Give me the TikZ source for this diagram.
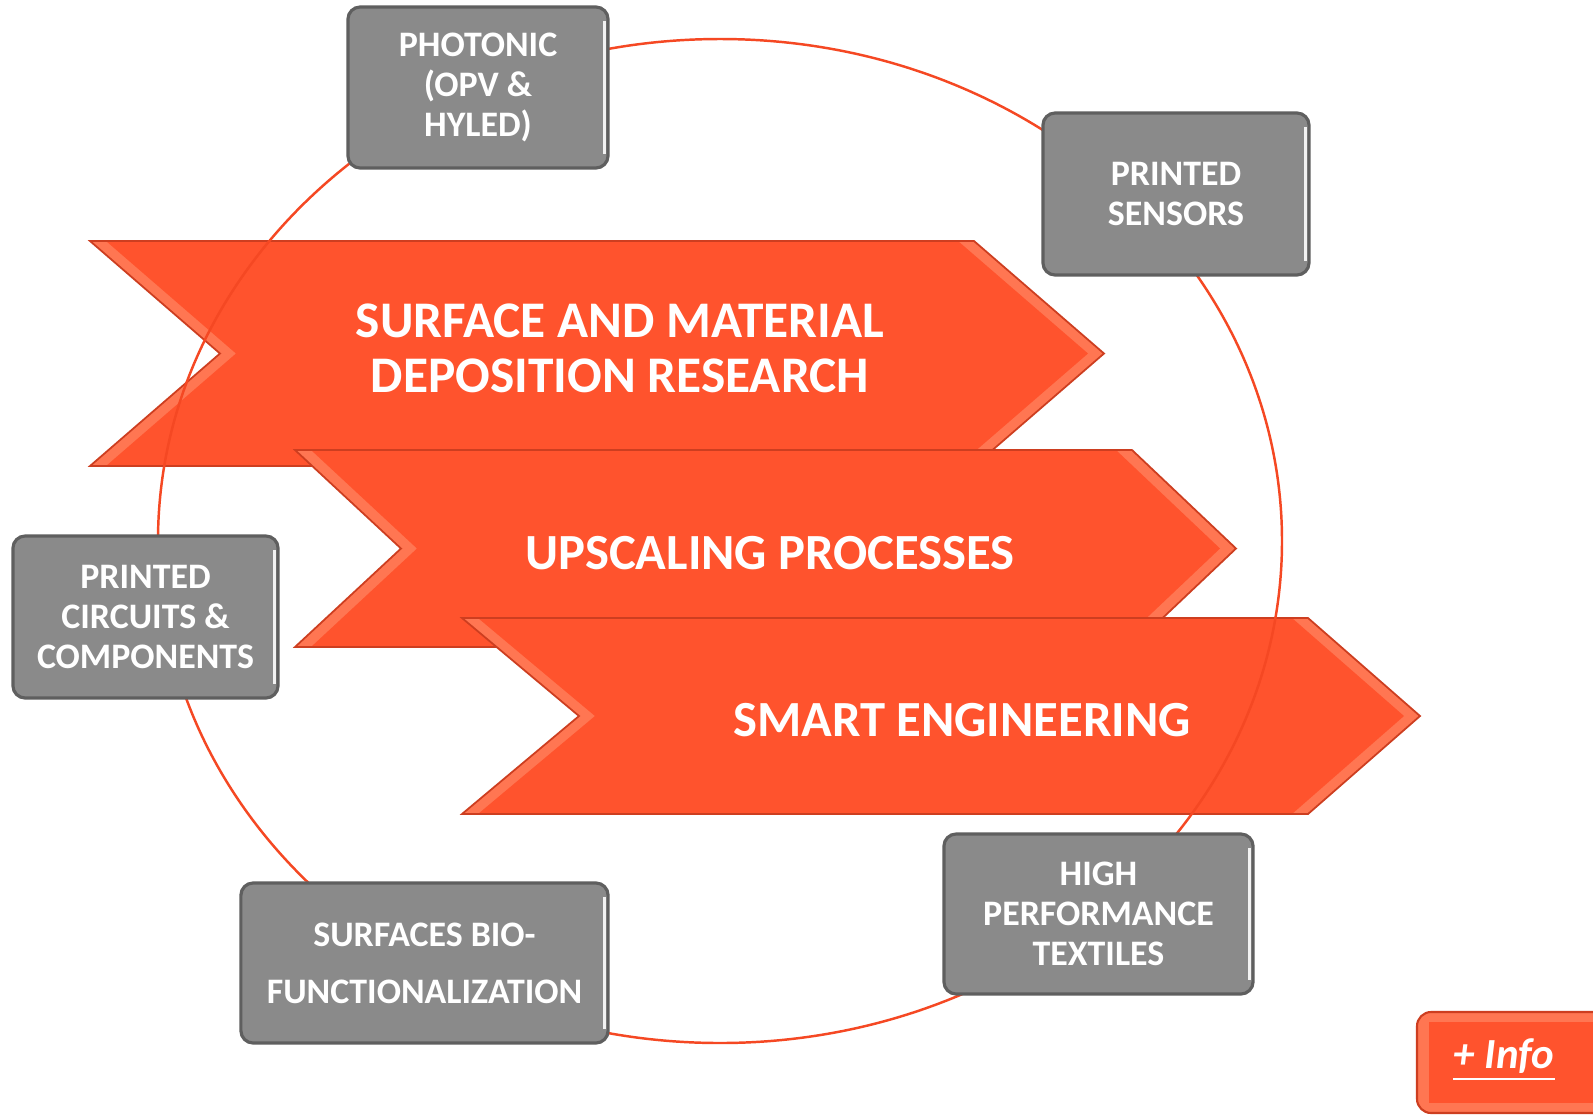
\documentclass[tikz,border=0pt]{standalone}
\usepackage{fontspec}
\setmainfont{Carlito}
\definecolor{orng}{RGB}{255,83,45}
\definecolor{orngl}{RGB}{255,118,82}
\definecolor{orngd}{RGB}{205,62,32}
\definecolor{gboxc}{RGB}{138,138,138}
\definecolor{gboxd}{RGB}{95,95,95}
\definecolor{ringc}{RGB}{245,72,35}
\newcommand\chevshape[6]{% xl, xr, xtip, xnotch, ytop, ybot
  \fill[orngl] (#1,#5) -- (#2,#5) -- (#3,{(#5+#6)/2}) -- (#2,#6) -- (#1,#6) -- (#4,{(#5+#6)/2}) -- cycle;
  \fill[orng] ({#1+16},#5) -- ({#2-16},#5) -- ({#3-16},{(#5+#6)/2}) -- ({#2-16},#6) -- ({#1+16},#6) -- ({#4+16},{(#5+#6)/2}) -- cycle;
  \draw[orngd, line width=0.5pt, line join=miter] (#1,#5) -- (#2,#5) -- (#3,{(#5+#6)/2}) -- (#2,#6) -- (#1,#6) -- (#4,{(#5+#6)/2}) -- cycle;
}
\tikzset{
  gbox/.style={draw=gboxd, line width=0.9pt, fill=gboxc, rounded corners=3.5pt, text=white,
    font=\fontsize{10.2}{11.4}\selectfont\bfseries, align=center, inner sep=0pt},
  chevtext/.style={text=white, font=\fontsize{14.4}{15.4}\selectfont\bfseries, align=center, inner sep=0pt},
  ringline/.style={draw=ringc, line width=0.7pt},
  shine/.style={draw=white!90!gray, line width=0.9pt}
}
\begin{document}
\begin{tikzpicture}[x=0.01cm, y=-0.01cm]
\clip (0,0) rectangle (1593,1114);
\fill[white] (0,0) rectangle (1593,1114);
% chevrons
\chevshape{90}{974}{1104}{220}{241}{466}
\chevshape{295}{1132}{1236}{401}{450}{647}
\chevshape{462}{1308}{1420}{579}{618}{814}
% ring
\draw[ringline] (720,541) ellipse [x radius=562, y radius=502];
% chevron texts
\node[chevtext, font=\fontsize{14.6}{15.7}\selectfont\bfseries] (t1) at (620,348.5) {SURFACE AND MATERIAL\\DEPOSITION RESEARCH};
\node[chevtext] (t2) at (770,553) {UPSCALING PROCESSES};
\node[chevtext] (t3) at (962,720) {SMART ENGINEERING};
% grey boxes
\node[gbox, minimum width=2.60cm, minimum height=1.61cm] (b1) at (478,87.5) {PHOTONIC\\(OPV \&\\HYLED)};
\node[gbox, minimum width=2.66cm, minimum height=1.62cm] (b2) at (1176,194) {PRINTED\\SENSORS};
\node[gbox, minimum width=2.65cm, minimum height=1.62cm] (b3) at (145.5,617) {PRINTED\\CIRCUITS \&\\COMPONENTS};
\node[gbox, minimum width=3.67cm, minimum height=1.60cm, font=\fontsize{10.2}{16.2}\selectfont\bfseries] (b4) at (424.5,963) {SURFACES BIO-\\FUNCTIONALIZATION};
\node[gbox, minimum width=3.09cm, minimum height=1.60cm] (b5) at (1098.5,914) {HIGH\\PERFORMANCE\\TEXTILES};
\foreach \b in {b1,b2,b3,b4,b5}{
  \draw[shine] ([xshift=-0.05cm,yshift=-0.16cm]\b.north east) -- ([xshift=-0.05cm,yshift=0.16cm]\b.south east);
}
% info button
\fill[orngl, rounded corners=4pt] (1417,1012) rectangle (1640,1113);
\fill[orng] (1429,1022) rectangle (1640,1103);
\draw[orngd, line width=0.6pt, rounded corners=4pt] (1417,1012) rectangle (1640,1113);
\node[text=white, font=\fontsize{12.2}{14}\selectfont\bfseries\itshape, inner sep=0pt] (info) at (1504,1060) {\underline{+ Info}};
\end{tikzpicture}
\end{document}
